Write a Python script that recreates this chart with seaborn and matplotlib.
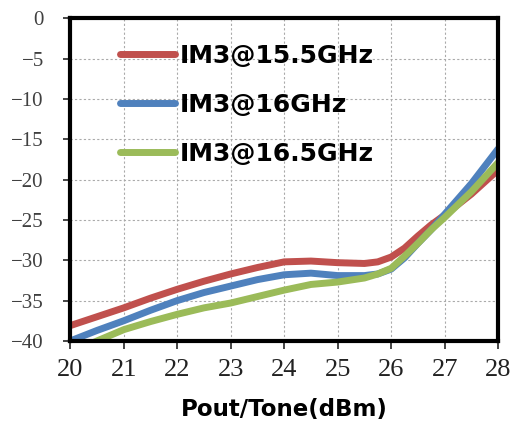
import numpy as np
import pandas as pd
import seaborn as sns
import matplotlib.pyplot as plt

# values (x = Pout/Tone in dBm)
pout = [20, 20.5, 21, 21.5, 22, 22.5, 23, 23.5, 24, 24.5, 25, 25.5, 25.75, 26, 26.25, 26.5, 26.75, 27, 27.5, 28]
im3_155 = [-38.1, -37.0, -35.9, -34.7, -33.6, -32.6, -31.7, -30.9, -30.2, -30.1, -30.3, -30.4, -30.2, -29.6, -28.5, -27.0, -25.6, -24.4, -21.8, -18.8]
im3_16 = [-40.0, -38.7, -37.5, -36.2, -35.0, -34.0, -33.2, -32.4, -31.8, -31.6, -31.9, -31.9, -31.7, -31.1, -29.7, -27.9, -26.2, -24.3, -20.5, -16.2]
im3_165 = [-41.5, -40.0, -38.6, -37.6, -36.7, -35.9, -35.3, -34.5, -33.7, -33.0, -32.7, -32.2, -31.7, -31.0, -29.5, -27.9, -26.2, -24.7, -21.5, -17.9]
labels = ['IM3@15.5GHz', 'IM3@16GHz', 'IM3@16.5GHz']
colors = ['#C0504D', '#4F81BD', '#9BBB59']

df = pd.DataFrame({
    'pout': pout * 3,
    'im3': im3_155 + im3_16 + im3_165,
    'series': [labels[0]] * len(pout) + [labels[1]] * len(pout) + [labels[2]] * len(pout),
})

sns.set_style('white')
plt.rcParams['text.color'] = 'black'
plt.rcParams['axes.labelcolor'] = 'black'
fig = plt.figure(figsize=(5.13, 4.23), dpi=100)
ax = fig.add_axes([0.137, 0.194, 0.834, 0.763])

sns.lineplot(data=df, x='pout', y='im3', hue='series', palette=colors,
             linewidth=5, ax=ax, solid_capstyle='round', solid_joinstyle='round', legend=True)

ax.set_xlim(20, 28)
ax.set_ylim(-40, 0)
ax.set_xticks(range(20, 29))
ax.set_yticks(range(-40, 1, 5))
ax.grid(True, color='#aaaaaa', linestyle=(0, (2, 2)), linewidth=0.8)
ax.set_axisbelow(True)

for s in ax.spines.values():
    s.set_linewidth(3)
    s.set_color('black')

ax.tick_params(axis='x', direction='out', length=6, width=1.2, bottom=True, pad=7)
ax.tick_params(axis='y', direction='out', length=5, width=1.2, left=True, pad=14)
for t in ax.get_xticklabels():
    t.set_fontfamily('Liberation Serif')
    t.set_fontsize(19)
    t.set_color('#222222')
for t in ax.get_yticklabels():
    t.set_fontfamily('Liberation Serif')
    t.set_fontsize(15)
    t.set_color('#404040')

ax.set_xlabel('Pout/Tone(dBm)', fontsize=16.5, fontweight='bold', labelpad=12, color='black')
ax.set_ylabel('')

leg = ax.legend(loc='upper left', bbox_to_anchor=(0.064, 0.99), frameon=False,
                handlelength=2.2, handletextpad=0.2, labelspacing=1.0,
                prop={'weight': 'bold', 'size': 18})
for line in leg.get_lines():
    line.set_linewidth(5)
    line.set_solid_capstyle('round')
for t in leg.get_texts():
    t.set_color('black')

fig.savefig('out.png', dpi=100)
